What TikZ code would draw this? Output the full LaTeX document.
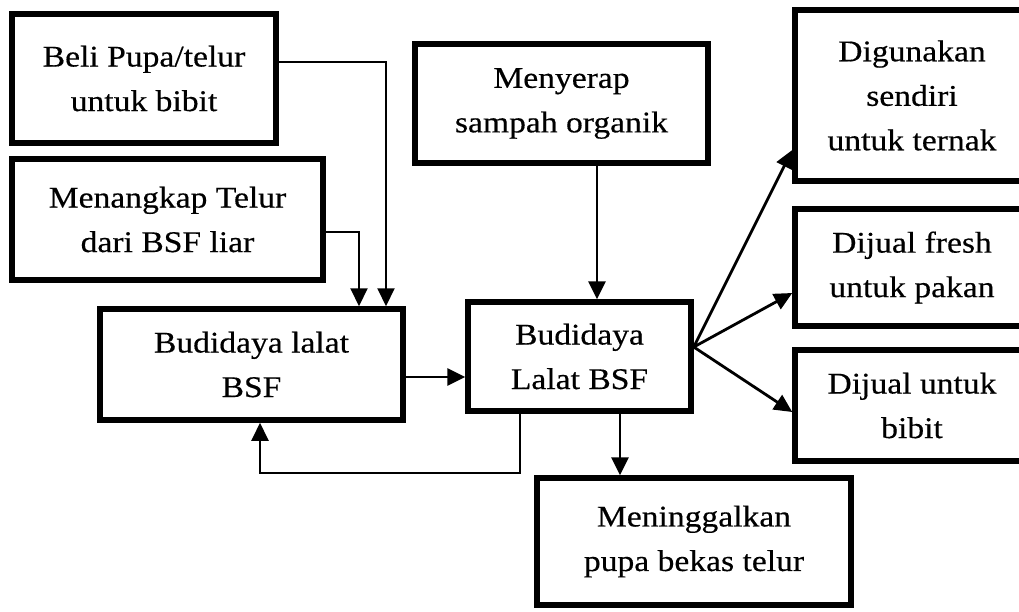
\documentclass[tikz,border=0pt]{standalone}
\usepackage{fontspec}
\setmainfont{Liberation Serif}[FakeStretch=1.12,FakeBold=0.4]
\usetikzlibrary{arrows.meta}
\begin{document}
\begin{tikzpicture}[x=1pt,y=-1pt,
  box/.style={draw=black, line width=5.5pt, rectangle, inner sep=0pt, align=center,
    font=\fontsize{30}{44.5}\selectfont},
  thinconn/.style={draw=black, line width=2pt, -{Triangle[length=18pt,width=17pt]}},
  conn/.style={draw=black, line width=2.8pt, -{Triangle[length=18pt,width=17pt]}}]
\useasboundingbox (0,0) rectangle (1019,611);
\clip (0,0) rectangle (1019,611);
\fill[white] (0,0) rectangle (1019,611);

\node[box, minimum width=264pt, minimum height=129pt] (b1) at (144,78.5) {Beli Pupa/telur\\untuk bibit};
\node[box, minimum width=311pt, minimum height=121pt] (b2) at (167.5,219.5) {Menangkap Telur\\dari BSF liar};
\node[box, minimum width=303pt, minimum height=111pt] (b3) at (251.5,364.5) {Budidaya lalat\\BSF};
\node[box, minimum width=293pt, minimum height=119pt] (b4) at (561.5,103.5) {Menyerap\\sampah organik};
\node[box, minimum width=223pt, minimum height=109pt] (b5) at (579.5,356.5) {Budidaya\\Lalat BSF};
\node[box, minimum width=314pt, minimum height=127pt] (b6) at (694,541.5) {Meninggalkan\\pupa bekas telur};
\node[box, minimum width=234pt, minimum height=171pt] (b7) at (912,95.5) {Digunakan\\sendiri\\untuk ternak};
\node[box, minimum width=234pt, minimum height=117pt] (b8) at (912,267.5) {Dijual fresh\\untuk pakan};
\node[box, minimum width=234pt, minimum height=111pt] (b9) at (912,405.5) {Dijual untuk\\bibit};

\coordinate (k1) at (386,62);
\coordinate (k2) at (359,232);
\coordinate (k3) at (0,377);
\coordinate (k4) at (597,0);
\coordinate (k5a) at (520,0);
\coordinate (k5) at (260,473);
\coordinate (k6) at (620,0);
\coordinate (k7) at (0,347);
\coordinate (t7) at (0,150);
\coordinate (t8) at (0,293);
\coordinate (t9) at (0,412);

\draw[thinconn] (b1.east |- k1) -| (b3.north -| k1);
\draw[thinconn] (b2.east |- k2) -| (b3.north -| k2);
\draw[conn] (b3.east |- k3) -- (b5.west |- k3);
\draw[conn] (b4.south -| k4) -- (b5.north -| k4);
\draw[thinconn] (b5.south -| k5a) |- (k5) -- (b3.south -| k5);
\draw[conn] (b5.south -| k6) -- (b6.north -| k6);
\draw[conn] (b5.east |- k7) -- (b7.west |- t7);
\draw[conn] (b5.east |- k7) -- (b8.west |- t8);
\draw[conn] (b5.east |- k7) -- (b9.west |- t9);
\end{tikzpicture}
\end{document}
